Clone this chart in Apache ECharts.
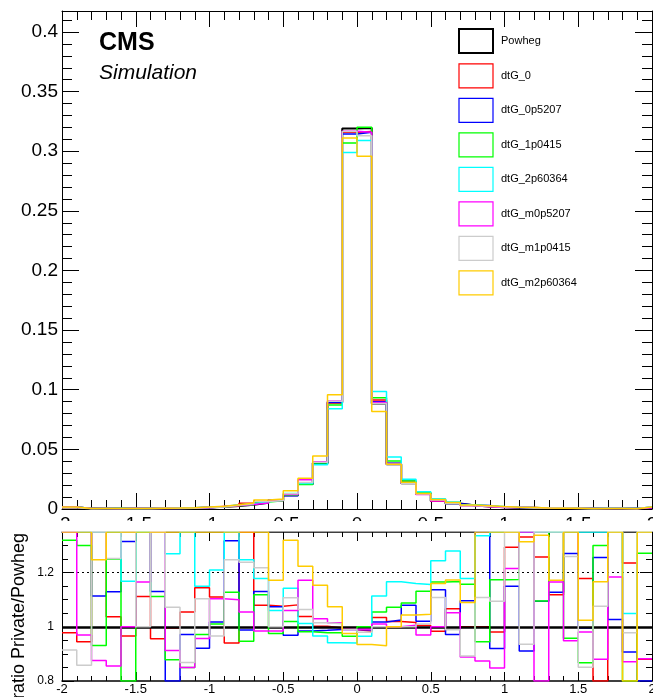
<!DOCTYPE html>
<html>
<head>
<meta charset="utf-8">
<script src="https://cdn.jsdelivr.net/npm/echarts@6/dist/echarts.min.js"></script>
<style>
  html, body { margin: 0; padding: 0; background: #fff; }
  #chart { width: 653px; height: 697px; }
</style>
</head>
<body>
<div id="chart"></div>
<script>
// Binning: 40 bins of width 0.1 between -2 and 2
const binLow = -2;
const binWidth = 0.1;
const nBins = 40;

const sampleNames = ['Powheg', 'dtG_0', 'dtG_0p5207', 'dtG_1p0415', 'dtG_2p60364',
                     'dtG_m0p5207', 'dtG_m1p0415', 'dtG_m2p60364'];
const sampleColors = ['#000000', '#ff0000', '#0000ff', '#00ff00', '#00ffff',
                      '#ff00ff', '#cccccc', '#ffcc00'];

// Normalised distributions (upper pad)
const powheg = [0.0012, 0.0004, 0.0004, 0.0004, 0.0004, 0.0004, 0.0005, 0.0006, 0.0008, 0.0012,
  0.0018, 0.0026, 0.0036, 0.0052, 0.0072, 0.0115, 0.0210, 0.0385, 0.0893, 0.3190,
  0.3195, 0.0885, 0.0375, 0.0215, 0.0125, 0.0068, 0.0046, 0.0030, 0.0021, 0.0015,
  0.0011, 0.0009, 0.0007, 0.0006, 0.0005, 0.0004, 0.0004, 0.0004, 0.0004, 0.0012];
const dtG_0 = [0.0012, 0.0004, 0.0005, 0.0004, 0.0004, 0.0004, 0.0005, 0.0006, 0.0008, 0.0014,
  0.0020, 0.0024, 0.0049, 0.0056, 0.0077, 0.0124, 0.0218, 0.0386, 0.0890, 0.3160,
  0.3165, 0.0915, 0.0382, 0.0218, 0.0126, 0.0067, 0.0049, 0.0030, 0.0021, 0.0015,
  0.0014, 0.0012, 0.0009, 0.0007, 0.0007, 0.0005, 0.0003, 0.0006, 0.0005, 0.0011];
const dtG_0p5207 = [0.0016, 0.0005, 0.0004, 0.0005, 0.0005, 0.0005, 0.0006, 0.0005, 0.0008, 0.0011,
  0.0018, 0.0034, 0.0036, 0.0059, 0.0077, 0.0111, 0.0207, 0.0380, 0.0895, 0.3145,
  0.3160, 0.0900, 0.0384, 0.0232, 0.0128, 0.0077, 0.0045, 0.0033, 0.0029, 0.0014,
  0.0013, 0.0008, 0.0008, 0.0007, 0.0006, 0.0004, 0.0005, 0.0004, 0.0004, 0.0010];
const dtG_1p0415 = [0.0016, 0.0005, 0.0004, 0.0005, 0.0003, 0.0005, 0.0006, 0.0005, 0.0007, 0.0012,
  0.0018, 0.0029, 0.0034, 0.0058, 0.0070, 0.0117, 0.0206, 0.0377, 0.0873, 0.3070,
  0.3202, 0.0933, 0.0402, 0.0234, 0.0141, 0.0079, 0.0054, 0.0035, 0.0020, 0.0018,
  0.0013, 0.0012, 0.0008, 0.0008, 0.0005, 0.0003, 0.0005, 0.0005, 0.0003, 0.0015];
const dtG_2p60364 = [0.0016, 0.0005, 0.0005, 0.0005, 0.0005, 0.0005, 0.0007, 0.0008, 0.0011, 0.0014,
  0.0022, 0.0036, 0.0045, 0.0061, 0.0076, 0.0131, 0.0213, 0.0372, 0.0840, 0.2990,
  0.3090, 0.0986, 0.0437, 0.0250, 0.0145, 0.0085, 0.0059, 0.0035, 0.0028, 0.0021,
  0.0015, 0.0012, 0.0010, 0.0008, 0.0007, 0.0006, 0.0006, 0.0006, 0.0004, 0.0016];
const dtG_m0p5207 = [0.0016, 0.0004, 0.0004, 0.0003, 0.0004, 0.0005, 0.0007, 0.0005, 0.0007, 0.0011,
  0.0020, 0.0029, 0.0038, 0.0051, 0.0071, 0.0122, 0.0246, 0.0397, 0.0906, 0.3167,
  0.3160, 0.0893, 0.0375, 0.0216, 0.0121, 0.0068, 0.0048, 0.0027, 0.0018, 0.0013,
  0.0013, 0.0012, 0.0006, 0.0007, 0.0005, 0.0004, 0.0004, 0.0005, 0.0003, 0.0011];
const dtG_m1p0415 = [0.0011, 0.0003, 0.0005, 0.0005, 0.0005, 0.0004, 0.0007, 0.0006, 0.0007, 0.0013,
  0.0017, 0.0032, 0.0045, 0.0063, 0.0072, 0.0127, 0.0223, 0.0391, 0.0903, 0.3165,
  0.3130, 0.0885, 0.0375, 0.0215, 0.0126, 0.0075, 0.0045, 0.0027, 0.0023, 0.0016,
  0.0015, 0.0008, 0.0009, 0.0008, 0.0006, 0.0003, 0.0004, 0.0005, 0.0004, 0.0016];
const dtG_m2p60364 = [0.0016, 0.0005, 0.0005, 0.0005, 0.0005, 0.0005, 0.0007, 0.0008, 0.0011, 0.0016,
  0.0024, 0.0035, 0.0050, 0.0075, 0.0084, 0.0152, 0.0257, 0.0444, 0.0959, 0.3110,
  0.2958, 0.0817, 0.0375, 0.0224, 0.0131, 0.0079, 0.0054, 0.0033, 0.0028, 0.0020,
  0.0015, 0.0012, 0.0009, 0.0007, 0.0007, 0.0004, 0.0005, 0.0005, 0.0003, 0.0016];

// Private / Powheg ratios (lower pad); entries at 1.35 / 0.8 sit on the frame edge
const ratio_dtG_0 = [0.978, 0.945, 1.35, 1.037, 0.966, 1.112, 0.956, 0.996, 1.055, 1.144,
  1.11, 0.94, 1.35, 1.08, 1.076, 1.081, 1.038, 1.002, 0.996, 0.99,
  0.984, 1.034, 1.02, 1.016, 1.005, 0.984, 1.067, 1.0, 1.0, 0.981,
  1.294, 1.332, 1.258, 1.118, 1.35, 1.178, 0.8, 1.35, 1.236, 0.88];
const ratio_dtG_0p5207 = [1.35, 1.35, 1.114, 1.129, 1.315, 1.35, 1.13, 0.8, 0.972, 0.921,
  1.018, 1.318, 0.988, 1.13, 1.074, 0.969, 0.985, 0.987, 0.99, 0.99,
  0.988, 1.018, 1.025, 1.08, 1.021, 1.137, 0.972, 1.096, 1.35, 0.92,
  1.15, 0.911, 1.094, 1.128, 1.271, 0.996, 1.256, 1.027, 0.907, 0.8];
const ratio_dtG_1p0415 = [1.32, 1.30, 0.931, 1.25, 0.8, 1.35, 1.112, 0.878, 0.85, 0.972,
  1.01, 1.128, 0.947, 1.118, 0.975, 1.02, 0.982, 0.978, 0.978, 0.965,
  1.0, 1.055, 1.072, 1.088, 1.131, 1.165, 1.167, 1.157, 0.945, 1.174,
  1.175, 1.35, 1.095, 1.35, 0.958, 0.867, 1.30, 1.35, 0.8, 1.272];
const ratio_dtG_2p60364 = [1.35, 1.35, 1.35, 1.35, 1.168, 1.35, 1.35, 1.27, 1.35, 1.15,
  1.21, 1.35, 1.248, 1.178, 1.06, 1.142, 1.012, 0.966, 0.941, 0.94,
  0.965, 1.114, 1.166, 1.16, 1.156, 1.244, 1.28, 1.178, 1.336, 1.35,
  1.35, 1.35, 1.35, 1.35, 1.35, 1.35, 1.35, 1.35, 1.049, 1.35];
const ratio_dtG_m0p5207 = [1.35, 0.97, 0.876, 0.855, 1.0, 1.165, 1.35, 0.913, 0.85, 0.957,
  1.104, 1.10, 1.055, 0.985, 0.985, 1.06, 1.172, 1.03, 1.015, 0.99,
  0.99, 1.01, 1.0, 1.006, 0.97, 1.0, 1.052, 0.889, 0.874, 0.848,
  1.215, 1.35, 0.8, 1.165, 0.949, 0.981, 0.88, 1.184, 0.871, 0.882];
const ratio_dtG_m1p0415 = [0.914, 0.858, 1.35, 1.252, 1.35, 1.0, 1.35, 1.072, 0.868, 1.104,
  0.966, 1.248, 1.238, 1.218, 1.0, 1.107, 1.064, 1.015, 1.011, 0.99,
  0.98, 1.0, 1.0, 1.0, 1.01, 1.108, 0.989, 0.892, 1.108, 1.094,
  1.35, 0.936, 1.35, 1.35, 1.26, 0.851, 1.076, 1.35, 0.978, 1.35];
const ratio_dtG_m2p60364 = [1.35, 1.35, 1.248, 1.35, 1.35, 1.35, 1.35, 1.35, 1.35, 1.35,
  1.35, 1.35, 1.35, 1.35, 1.172, 1.32, 1.224, 1.153, 1.074, 0.975,
  0.935, 0.93, 1.0, 1.044, 1.046, 1.16, 1.173, 1.09, 1.35, 1.35,
  1.35, 1.314, 1.338, 1.172, 1.35, 1.024, 1.166, 1.35, 0.8, 1.35];

const distributions = [powheg, dtG_0, dtG_0p5207, dtG_1p0415, dtG_2p60364,
                       dtG_m0p5207, dtG_m1p0415, dtG_m2p60364];
const ratios = [null, ratio_dtG_0, ratio_dtG_0p5207, ratio_dtG_1p0415, ratio_dtG_2p60364,
                ratio_dtG_m0p5207, ratio_dtG_m1p0415, ratio_dtG_m2p60364];

const FONT = 'Liberation Sans, Helvetica, Arial, sans-serif';

// Histogram outline: one point per lower bin edge plus the last upper edge
function histPoints(values) {
  const pts = values.map((v, i) => [+(binLow + i * binWidth).toFixed(2), v]);
  pts.push([+(binLow + nBins * binWidth).toFixed(2), values[values.length - 1]]);
  return pts;
}

function frameAxis(base) {
  return Object.assign({
    type: 'value',
    axisLine: { show: true, onZero: false, lineStyle: { color: '#000', width: 1 } },
    splitLine: { show: false },
    axisTick: { show: true, inside: true, lineStyle: { color: '#000', width: 1 } },
    minorTick: { show: true, lineStyle: { color: '#000', width: 1 } },
  }, base);
}

const xMain = { min: -2, max: 2, interval: 0.5 };
const yMain = { min: 0, max: 0.4176, interval: 0.05 };
const yRatio = { min: 0.8, max: 1.35, interval: 0.2 };

const xAxes = [
  frameAxis(Object.assign({ gridIndex: 0, position: 'bottom',
    axisTick: { show: true, inside: true, length: 16, lineStyle: { color: '#000' } },
    minorTick: { show: true, splitNumber: 5, length: 9, lineStyle: { color: '#000' } },
    axisLabel: { show: true, margin: 6, fontSize: 19, color: '#000', fontFamily: FONT,
                 showMinLabel: true, showMaxLabel: true } }, xMain)),
  frameAxis(Object.assign({ gridIndex: 0, position: 'top',
    axisTick: { show: true, inside: true, length: 16, lineStyle: { color: '#000' } },
    minorTick: { show: true, splitNumber: 5, length: 9, lineStyle: { color: '#000' } },
    axisLabel: { show: false } }, xMain)),
  frameAxis(Object.assign({ gridIndex: 1, position: 'bottom',
    axisLine: { show: true, onZero: false, lineStyle: { color: '#000', width: 1.5 } },
    axisTick: { show: true, inside: true, length: 9, lineStyle: { color: '#000' } },
    minorTick: { show: true, splitNumber: 5, length: 5, lineStyle: { color: '#000' } },
    axisLabel: { show: true, margin: 2, fontSize: 13, color: '#000', fontFamily: FONT } }, xMain)),
  frameAxis(Object.assign({ gridIndex: 1, position: 'top',
    axisLine: { show: true, onZero: false, lineStyle: { color: '#000', width: 1.5 } },
    axisTick: { show: true, inside: true, length: 9, lineStyle: { color: '#000' } },
    minorTick: { show: true, splitNumber: 5, length: 5, lineStyle: { color: '#000' } },
    axisLabel: { show: false } }, xMain)),
];

const yAxes = [
  frameAxis(Object.assign({ gridIndex: 0, position: 'left',
    axisTick: { show: true, inside: true, length: 17, lineStyle: { color: '#000' } },
    minorTick: { show: true, splitNumber: 5, length: 10, lineStyle: { color: '#000' } },
    axisLabel: { show: true, margin: 4, fontSize: 19, color: '#000', fontFamily: FONT,
                 showMaxLabel: false } }, yMain)),
  frameAxis(Object.assign({ gridIndex: 0, position: 'right',
    axisTick: { show: true, inside: true, length: 17, lineStyle: { color: '#000' } },
    minorTick: { show: true, splitNumber: 5, length: 10, lineStyle: { color: '#000' } },
    axisLabel: { show: false } }, yMain)),
  frameAxis(Object.assign({ gridIndex: 1, position: 'left',
    axisTick: { show: true, inside: true, length: 12, lineStyle: { color: '#000' } },
    minorTick: { show: true, splitNumber: 4, length: 6, lineStyle: { color: '#000' } },
    axisLabel: { show: true, margin: 8, fontSize: 12, color: '#000', fontFamily: FONT,
                 showMaxLabel: false,
                 formatter: v => (Math.abs(v - 1) < 1e-9 ? '1' : String(+v.toFixed(2))) } }, yRatio)),
  frameAxis(Object.assign({ gridIndex: 1, position: 'right',
    axisTick: { show: true, inside: true, length: 12, lineStyle: { color: '#000' } },
    minorTick: { show: true, splitNumber: 4, length: 6, lineStyle: { color: '#000' } },
    axisLabel: { show: false } }, yRatio)),
];

const series = [];

// Upper pad: normalised distributions
distributions.forEach((vals, k) => {
  series.push({
    name: sampleNames[k],
    type: 'line',
    step: 'end',
    xAxisIndex: 0,
    yAxisIndex: 0,
    data: histPoints(vals),
    symbol: 'none',
    lineStyle: { color: sampleColors[k], width: k === 0 ? 2 : 1.5 },
    itemStyle: { color: sampleColors[k] },
    z: 2 + k,
    silent: true,
  });
});

// Lower pad: reference lines at 1 and 1.2
series.push({
  name: 'reference',
  type: 'line',
  xAxisIndex: 2,
  yAxisIndex: 2,
  data: [],
  symbol: 'none',
  z: 1,
  markLine: {
    silent: true,
    symbol: 'none',
    label: { show: false },
    animation: false,
    data: [
      { yAxis: 1, lineStyle: { color: '#000', width: 2.5, type: 'solid' } },
      { yAxis: 1.2, lineStyle: { color: '#000', width: 1, type: [2, 3] } },
    ],
  },
});

// Lower pad: ratios
ratios.forEach((vals, k) => {
  if (!vals) return;
  series.push({
    name: 'ratio ' + sampleNames[k],
    type: 'line',
    step: 'end',
    xAxisIndex: 2,
    yAxisIndex: 2,
    data: histPoints(vals),
    symbol: 'none',
    lineStyle: { color: sampleColors[k], width: 1.5 },
    itemStyle: { color: sampleColors[k] },
    z: 2 + k,
    silent: true,
  });
});

const chart = echarts.init(document.getElementById('chart'), null, { renderer: 'canvas' });
chart.setOption({
  animation: false,
  backgroundColor: '#ffffff',
  grid: [
    { left: 62, top: 11, width: 590, height: 498, containLabel: false, outerBoundsMode: 'none' },
    { left: 62, top: 532, width: 590, height: 149, containLabel: false, outerBoundsMode: 'none' },
  ],
  xAxis: xAxes,
  yAxis: yAxes,
  legend: {
    orient: 'vertical',
    left: 458,
    top: 28,
    padding: 0,
    itemWidth: 34,
    itemHeight: 24,
    itemGap: 9.3,
    selectedMode: false,
    textStyle: { fontFamily: FONT, fontSize: 11, color: '#000', padding: [0, 0, 0, 3] },
    data: sampleNames.map((n, k) => ({
      name: n,
      icon: 'rect',
      itemStyle: { color: 'rgba(255,255,255,0)', borderColor: sampleColors[k],
                   borderWidth: k === 0 ? 2 : 1.2 },
    })),
  },
  graphic: [
    // Lower pad background hides the bottom of the upper pad's x labels
    { type: 'rect', z: 100, shape: { x: 0, y: 521, width: 653, height: 10.5 },
      style: { fill: '#fff' }, silent: true },
    { type: 'text', z: 101, left: 99, top: 31,
      style: { text: 'CMS', font: 'bold 25px ' + FONT, fill: '#000' } },
    { type: 'text', z: 101, left: 99, top: 63,
      style: { text: 'Simulation', font: 'italic 21px ' + FONT, fill: '#000' } },
    { type: 'text', z: 101, x: 28, y: 616, rotation: Math.PI / 2,
      style: { text: 'ratio Private/Powheg', font: '18px ' + FONT, fill: '#000',
               align: 'center', verticalAlign: 'bottom' } },
  ],
  series: series,
});
</script>
</body>
</html>
